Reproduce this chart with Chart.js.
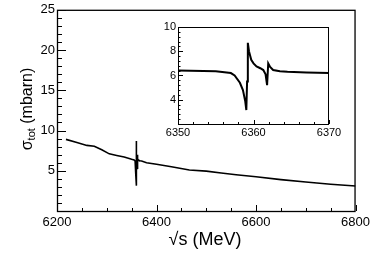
<!DOCTYPE html>
<html>
<head>
<meta charset="utf-8">
<script src="https://cdn.jsdelivr.net/npm/chart.js@4.4.1/dist/chart.umd.min.js"></script>
<style>
  html, body { margin: 0; padding: 0; background: #fff; }
  #wrap { position: relative; width: 374px; height: 253px; }
  #mainChart { position: absolute; left: 0; top: 0; }
  #insetChart { position: absolute; left: 140px; top: 18px; }
</style>
</head>
<body>
<div id="wrap">
  <canvas id="mainChart" width="374" height="253"></canvas>
  <canvas id="insetChart" width="215" height="125"></canvas>
</div>
<script>
// sqrt(s) in MeV and total cross section in mbarn
const energy = [
  6218, 6240, 6260, 6275, 6290, 6305, 6320, 6335, 6350, 6355,
  6357, 6357.5, 6358.2, 6358.6, 6358.9, 6359.05, 6359.15, 6359.25, 6359.4, 6359.7,
  6360.0, 6360.4, 6360.9, 6361.3, 6361.6, 6361.8, 6361.95, 6362.2, 6362.6, 6363.5,
  6364.5, 6367, 6370, 6380, 6400, 6430, 6466, 6500, 6530, 6560,
  6600, 6650, 6700, 6750, 6800
];
const sigma = [
  8.9, 8.5, 8.15, 8.05, 7.6, 7.1, 6.9, 6.7, 6.42, 6.35,
  6.2, 6.0, 5.4, 4.8, 3.9, 3.15, 5.5, 8.7, 8.0, 7.3,
  7.0, 6.75, 6.6, 6.45, 6.1, 5.2, 7.0, 6.7, 6.45, 6.35,
  6.3, 6.25, 6.2, 6.0, 5.8, 5.5, 5.1, 4.95, 4.72, 4.5,
  4.25, 3.9, 3.6, 3.33, 3.1
];

// tick labels
const mainXTicks = [6200, 6400, 6600, 6800];
const mainYTicks = [5, 10, 15, 20, 25];
const insetXTicks = [6350, 6360, 6370];
const insetYTicks = [4, 6, 8, 10];

const FONT = "'Liberation Sans', Arial, Helvetica, sans-serif";

document.addEventListener('DOMContentLoaded', function() {
    const points = energy.map((e, i) => ({ x: e, y: sigma[i] }));

    // frame + inward ticks, ROOT style
    const frameTicks = {
        id: 'frameTicks',
        afterDraw(chart, args, o) {
            const { ctx, chartArea: a, scales } = chart;
            ctx.save();
            ctx.strokeStyle = '#000';
            ctx.lineWidth = 1;
            const xs = scales.x, ys = scales.y;
            ctx.beginPath();
            for (let v = xs.min; v <= xs.max + 1e-9; v += o.xMinor) {
                const px = Math.round(xs.getPixelForValue(v)) + 0.5;
                const major = xs.ticks.some(t => Math.abs(t.value - v) < 1e-6);
                ctx.moveTo(px, a.bottom);
                ctx.lineTo(px, a.bottom - (major ? o.xMajorLen : o.xMinorLen));
            }
            for (let v = ys.min; v <= ys.max + 1e-9; v += o.yMinor) {
                const py = Math.round(ys.getPixelForValue(v)) + 0.5;
                const major = ys.ticks.some(t => Math.abs(t.value - v) < 1e-6);
                ctx.moveTo(a.left, py);
                ctx.lineTo(a.left + (major ? o.yMajorLen : o.yMinorLen), py);
            }
            ctx.stroke();
            ctx.lineWidth = o.frameWidth;
            ctx.strokeRect(a.left + 0.5, a.top + 0.5, a.right - a.left - 1, a.bottom - a.top);
            ctx.restore();
        }
    };

    // axis titles (subscript needs manual drawing)
    const titles = {
        id: 'titles',
        afterDraw(chart) {
            const ctx = chart.ctx;
            ctx.save();
            ctx.fillStyle = '#000';
            ctx.font = '18px ' + FONT;
            ctx.textAlign = 'center';
            ctx.textBaseline = 'alphabetic';
            ctx.fillText('\u221As (MeV)', 205, 245);

            ctx.translate(32, 109);
            ctx.rotate(-Math.PI / 2);
            ctx.textAlign = 'left';
            const big = '16px ' + FONT, small = '11px ' + FONT;
            ctx.font = big;
            const w1 = ctx.measureText('\u03C3').width;
            const w3 = ctx.measureText(' (mbarn)').width;
            ctx.font = small;
            const w2 = ctx.measureText('tot').width;
            let x = -(w1 + w2 + w3) / 2;
            ctx.font = big;
            ctx.fillText('\u03C3', x, 0);
            x += w1;
            ctx.font = small;
            ctx.fillText('tot', x, 3);
            x += w2;
            ctx.font = big;
            ctx.fillText(' (mbarn)', x, 0);
            ctx.restore();
        }
    };

    function axis(min, max, ticks, fontSize, pad, fit) {
        return {
            type: 'linear',
            min: min,
            max: max,
            grid: { display: false, drawTicks: false },
            border: { display: false },
            ticks: {
                color: '#000',
                font: { family: FONT, size: fontSize },
                padding: pad,
                maxRotation: 0,
                autoSkip: false,
                callback: v => String(v)
            },
            afterBuildTicks: s => { s.ticks = ticks.map(v => ({ value: v })); },
            afterFit: fit
        };
    }

    // main plot
    new Chart(document.getElementById('mainChart').getContext('2d'), {
        type: 'line',
        data: {
            datasets: [{
                data: points,
                borderColor: '#000',
                borderWidth: 1.6,
                pointRadius: 0,
                tension: 0
            }]
        },
        options: {
            responsive: false,
            animation: false,
            layout: { padding: { top: 9, right: 17, left: 0, bottom: 0 } },
            plugins: {
                legend: { display: false },
                tooltip: { enabled: false },
                frameTicks: { xMinor: 50, xMajorLen: 6, xMinorLen: 3, yMinor: 1, yMajorLen: 9, yMinorLen: 5, frameWidth: 1.3 }
            },
            scales: {
                x: axis(6200, 6800, mainXTicks, 13, 4, s => { s.height = 42; }),
                y: axis(0, 25, mainYTicks, 13, 2, s => { s.width = 57; })
            }
        },
        plugins: [frameTicks, titles]
    });

    // inset zoom on the resonance
    new Chart(document.getElementById('insetChart').getContext('2d'), {
        type: 'line',
        data: {
            datasets: [{
                data: points,
                borderColor: '#000',
                borderWidth: 2,
                pointRadius: 0,
                tension: 0
            }]
        },
        options: {
            responsive: false,
            animation: false,
            layout: { padding: { top: 9, right: 26, left: 0, bottom: 0 } },
            plugins: {
                legend: { display: false },
                tooltip: { enabled: false },
                frameTicks: { xMinor: 2, xMajorLen: 4, xMinorLen: 2, yMinor: 0.4, yMajorLen: 5, yMinorLen: 2.5, frameWidth: 1 }
            },
            scales: {
                x: axis(6350, 6370, insetXTicks, 11, 2, s => { s.height = 19; }),
                y: axis(2, 10, insetYTicks, 11, 2, s => { s.width = 38; })
            }
        },
        plugins: [frameTicks]
    });
});
</script>
</body>
</html>
